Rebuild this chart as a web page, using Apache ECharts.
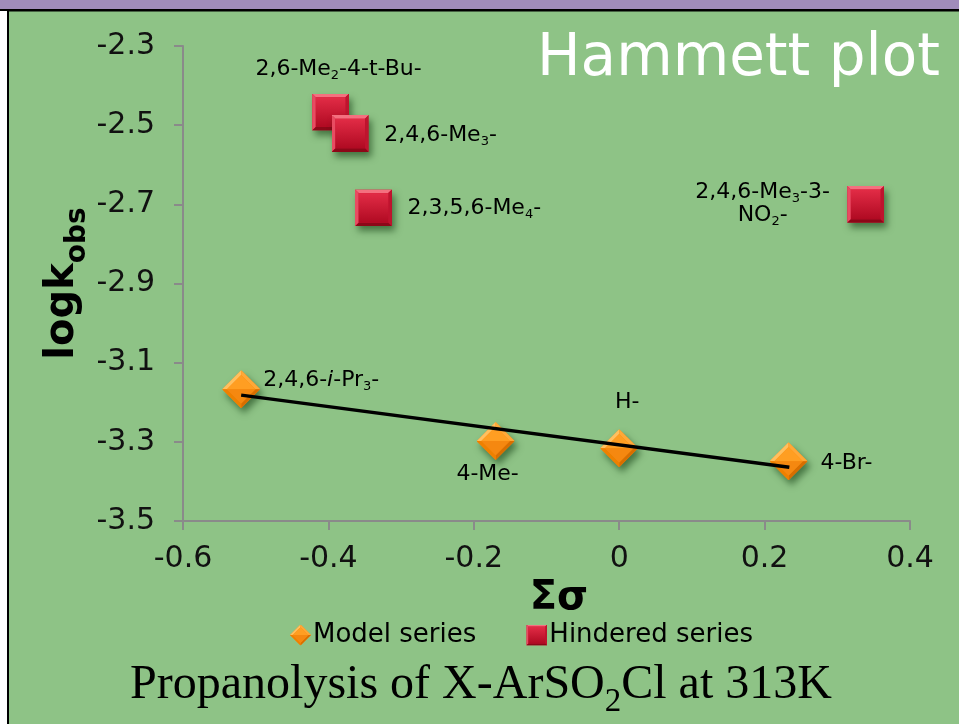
<!DOCTYPE html>
<html><head><meta charset="utf-8">
<script src="https://cdn.jsdelivr.net/npm/echarts@6/dist/echarts.min.js"></script>
<style>html,body{margin:0;padding:0;background:#fff}#c{width:959px;height:724px}</style>
</head><body><div id="c"></div>
<script>
// ---- data ----
const xTicks = [-0.6, -0.4, -0.2, 0, 0.2, 0.4];
const yTicks = [-3.5, -3.3, -3.1, -2.9, -2.7, -2.5, -2.3];
const modelNames = ['2,4,6-{i|i}-Pr{s|3}-', '4-Me-', 'H-', '4-Br-'];
const modelX = [-0.52, -0.17, 0, 0.233];
const modelY = [-3.167, -3.298, -3.316, -3.349];
const hinderedNames = ['2,6-Me{s|2}-4-t-Bu-', '2,4,6-Me{s|3}-', '2,3,5,6-Me{s|4}-', '2,4,6-Me{s|3}-3-\nNO{s|2}-'];
const hinderedX = [-0.397, -0.370, -0.338, 0.339];
const hinderedY = [-2.467, -2.521, -2.709, -2.700];
const trendX = [-0.52, 0.234];
const trendY = [-3.182, -3.364];

// ---- styles ----
const FONT = '"DejaVu Sans", Verdana, sans-serif';
const modelLabelPos = [
  {align: 'left', offset: [22, -9]},
  {align: 'center', offset: [-8, 33]},
  {align: 'center', offset: [8, -46]},
  {align: 'left', offset: [32, 2]}
];
const hinderedLabelPos = [
  {align: 'center', offset: [8, -43]},
  {align: 'left', offset: [34, 2]},
  {align: 'left', offset: [34, 0]},
  {align: 'center', offset: [-103, -1]}
];
const labelRich = {
  s: {fontSize: 13, lineHeight: 10, padding: [13, 0, 0, 0], fontFamily: FONT, color: '#000'},
  i: {fontSize: 22, lineHeight: 23, fontStyle: 'italic', fontFamily: FONT, color: '#000'}
};

const squareSVG = '<svg xmlns="http://www.w3.org/2000/svg" width="40" height="40" viewBox="0 0 40 40">' +
  '<defs><linearGradient id="g" x1="0" y1="0" x2="0" y2="1"><stop offset="0" stop-color="#E22C46"/><stop offset="1" stop-color="#B00A22"/></linearGradient></defs>' +
  '<rect width="40" height="40" fill="#C81030"/>' +
  '<polygon points="0,0 40,0 36,4 4,4" fill="#F4707F"/>' +
  '<polygon points="0,0 4,4 4,36 0,40" fill="#E84C62"/>' +
  '<polygon points="40,0 40,40 36,36 36,4" fill="#BE142E"/>' +
  '<polygon points="0,40 4,36 36,36 40,40" fill="#8C0818"/>' +
  '<rect x="4" y="4" width="32" height="32" fill="url(#g)"/>' +
  '</svg>';
const diamondSVG = '<svg xmlns="http://www.w3.org/2000/svg" width="40" height="40" viewBox="0 0 40 40">' +
  '<polygon points="20,0 40,20 20,40 0,20" fill="#F7890F"/>' +
  '<polygon points="0,20 20,0 20,5 5,20" fill="#FFC060"/>' +
  '<polygon points="20,0 40,20 35,20 20,5" fill="#FFA838"/>' +
  '<polygon points="40,20 20,40 20,35 35,20" fill="#D86E00"/>' +
  '<polygon points="0,20 5,20 20,35 20,40" fill="#EE8000"/>' +
  '<polygon points="5,20 20,5 35,20" fill="#FF9E22"/>' +
  '<polygon points="5,20 35,20 20,35" fill="#F58810"/>' +
  '</svg>';
const squareImg = 'image://data:image/svg+xml;charset=utf-8,' + encodeURIComponent(squareSVG);
const diamondImg = 'image://data:image/svg+xml;charset=utf-8,' + encodeURIComponent(diamondSVG);

function buildPoints(xs, ys, names, pos) {
  return xs.map((x, i) => ({
    value: [x, ys[i]],
    label: {
      show: true, formatter: names[i], position: 'inside',
      align: pos[i].align, verticalAlign: 'middle', offset: pos[i].offset,
      color: '#000', fontSize: 22, lineHeight: 23, fontFamily: FONT,
      textBorderWidth: 0, rich: labelRich
    }
  }));
}

const shadow = {opacity: 1, shadowBlur: 7, shadowColor: 'rgba(0,40,0,0.5)', shadowOffsetX: 3, shadowOffsetY: 5};

const chart = echarts.init(document.getElementById('c'), null, {renderer: 'canvas'});
chart.setOption({
  animation: false,
  backgroundColor: '#8EC386',
  grid: {left: 183, right: 49, top: 46, bottom: 203, outerBoundsMode: 'none', containLabel: false},
  xAxis: {
    type: 'value', min: -0.6, max: 0.4,
    axisLine: {show: true, onZero: false, lineStyle: {color: '#8a8a8a', width: 2}},
    axisTick: {show: true, length: 9, customValues: xTicks, lineStyle: {color: '#8a8a8a', width: 2}},
    axisLabel: {customValues: xTicks, fontSize: 30, fontFamily: FONT, color: '#111', margin: 23},
    splitLine: {show: false}
  },
  yAxis: {
    type: 'value', min: -3.5, max: -2.3,
    axisLine: {show: true, onZero: false, lineStyle: {color: '#8a8a8a', width: 2}},
    axisTick: {show: true, length: 9, customValues: yTicks, lineStyle: {color: '#8a8a8a', width: 2}},
    axisLabel: {customValues: yTicks, fontSize: 30, fontFamily: FONT, color: '#111', margin: 28,
      formatter: v => v.toFixed(1)},
    splitLine: {show: false}
  },
  legend: {
    data: ['Model series', 'Hindered series'],
    left: 285, top: 617, itemWidth: 21, itemHeight: 21, itemGap: 50,
    textStyle: {fontSize: 26, fontFamily: FONT, color: '#000', padding: [0, 0, 0, -3]}
  },
  series: [
    {
      name: 'Model series', type: 'scatter', symbol: diamondImg, symbolSize: 38,
      itemStyle: Object.assign({color: '#FF9A1E'}, shadow),
      data: buildPoints(modelX, modelY, modelNames, modelLabelPos), z: 2
    },
    {
      name: 'Hindered series', type: 'scatter', symbol: squareImg, symbolSize: 37,
      itemStyle: Object.assign({color: '#C8102E'}, shadow),
      data: buildPoints(hinderedX, hinderedY, hinderedNames, hinderedLabelPos), z: 2
    },
    {
      name: 'trend', type: 'line', showSymbol: false, symbol: 'none', silent: true, z: 5,
      lineStyle: {color: '#000', width: 3.5, opacity: 1},
      data: trendX.map((x, i) => [x, trendY[i]])
    }
  ],
  graphic: [
    {type: 'rect', shape: {x: 0, y: 0, width: 959, height: 9}, style: {fill: '#A08CBA'}},
    {type: 'rect', shape: {x: 0, y: 9, width: 959, height: 2.5}, style: {fill: '#000'}},
    {type: 'rect', shape: {x: 0, y: 11, width: 7, height: 713}, style: {fill: '#fff'}},
    {type: 'rect', shape: {x: 7, y: 11, width: 2, height: 713}, style: {fill: '#000'}},
    {type: 'text', x: 537, y: 60, style: {text: 'Hammett plot', fontSize: 58, fontFamily: FONT, fill: '#fff', align: 'left', verticalAlign: 'middle'}},
    {type: 'text', x: 559, y: 599, style: {text: 'Σσ', fontSize: 40, fontWeight: 'bold', fontFamily: FONT, fill: '#000', align: 'center', verticalAlign: 'middle'}},
    {type: 'text', x: 63, y: 283.5, rotation: Math.PI / 2, style: {
      text: '{m|logk}{s|obs}', align: 'center', verticalAlign: 'middle',
      rich: {
        m: {fontSize: 40, fontWeight: 'bold', fontFamily: FONT, lineHeight: 40, fill: '#000'},
        s: {fontSize: 28, fontWeight: 'bold', fontFamily: FONT, lineHeight: 28, padding: [30, 0, 0, 0], fill: '#000'}
      }
    }},
    {type: 'text', x: 481, y: 685, style: {
      text: '{m|Propanolysis of X-ArSO}{s|2}{m|Cl at 313K}', align: 'center', verticalAlign: 'middle',
      rich: {
        m: {fontSize: 48, fontFamily: '"Liberation Serif", "Times New Roman", serif', lineHeight: 48, fill: '#000'},
        s: {fontSize: 33, fontFamily: '"Liberation Serif", "Times New Roman", serif', lineHeight: 33, padding: [34, 0, 0, 0], fill: '#000'}
      }
    }}
  ]
});
</script></body></html>
